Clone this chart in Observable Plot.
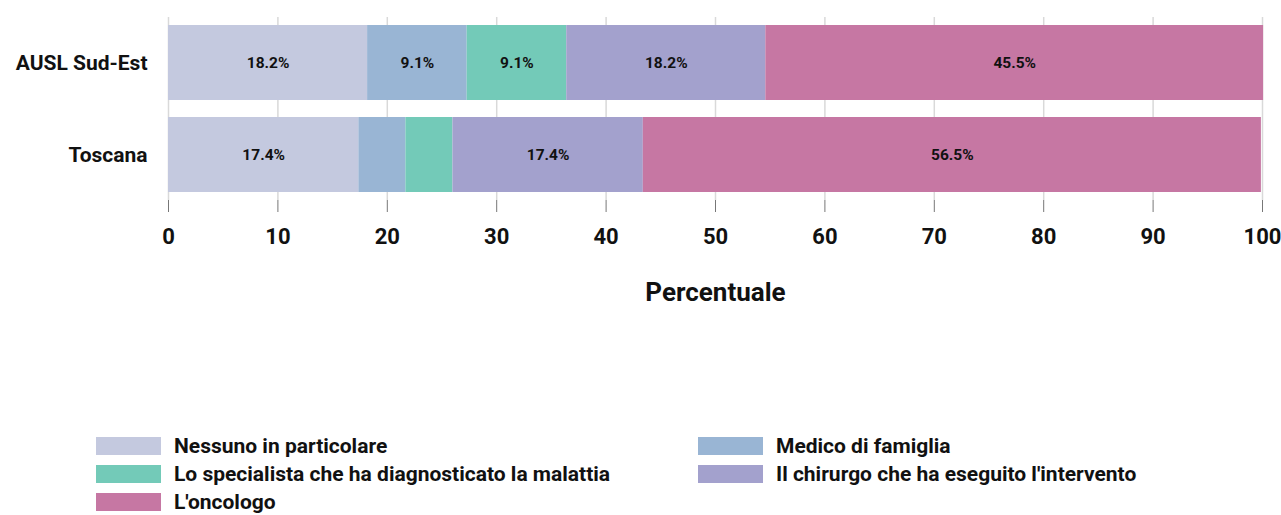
<!DOCTYPE html>
<html>
<head>
<meta charset="utf-8">
<script src="https://cdn.jsdelivr.net/npm/d3@7"></script>
<script src="https://cdn.jsdelivr.net/npm/@observablehq/plot@0.6"></script>
<style>
  body { margin: 0; background: #fff; font-family: Roboto, "DejaVu Sans", sans-serif; }
  #chart svg { display: block; }
  .legend { position: absolute; left: 96px; top: 437px; display: grid; grid-template-columns: 602px 560px; row-gap: 10px; }
  .item { display: flex; align-items: center; height: 18px; font-weight: 700; font-size: 21px; color: #111; white-space: nowrap; }
  .sw { width: 65px; height: 18px; margin-right: 13px; flex: none; }
</style>
</head>
<body>
<div id="chart"></div>
<div class="legend" id="legend"></div>
<script>
const regions = ["AUSL Sud-Est", "Toscana"];
const categories = [
  "Nessuno in particolare",
  "Medico di famiglia",
  "Lo specialista che ha diagnosticato la malattia",
  "Il chirurgo che ha eseguito l'intervento",
  "L'oncologo"
];
const colors = ["#c4c9df", "#99b5d4", "#73cab8", "#a3a1cd", "#c677a3"];
const auslValues = [18.2, 9.1, 9.1, 18.2, 45.5];
const toscanaValues = [17.4, 4.3, 4.3, 17.4, 56.5];
const xTicks = [0, 10, 20, 30, 40, 50, 60, 70, 80, 90, 100];

const data = [];
[auslValues, toscanaValues].forEach((vals, i) => {
  vals.forEach((v, j) => data.push({region: regions[i], category: categories[j], value: v}));
});

const chart = Plot.plot({
  width: 1281,
  height: 320,
  marginLeft: 168,
  marginRight: 19,
  marginTop: 17,
  marginBottom: 120,
  style: {fontFamily: "Roboto, sans-serif", fontWeight: 700, color: "#111"},
  x: {domain: [0, 100], ticks: xTicks},
  y: {domain: regions, paddingInner: 0.185, paddingOuter: 0.087},
  color: {domain: categories, range: colors},
  marks: [
    Plot.gridX(xTicks, {stroke: "#d9d9d9", strokeOpacity: 1, strokeWidth: 1.5}),
    Plot.barX(data, Plot.stackX({x: "value", y: "region", fill: "category", order: categories})),
    Plot.text(data, Plot.stackX({
      x: "value", y: "region", z: "category", order: categories,
      text: d => d.value > 5 ? d.value.toFixed(1) + "%" : "",
      fill: "#111", fontSize: 15.5, fontWeight: 700
    })),
    Plot.axisX({
      ticks: xTicks, tickSize: 12, tickPadding: 16, stroke: "#777",
      fontSize: 22, fontWeight: 700, label: "Percentuale", labelAnchor: "center",
      labelArrow: "none", labelOffset: 100
    }),
    Plot.axisY({tickSize: 0, tickPadding: 21, fontSize: 21, fontWeight: 700, label: null})
  ]
});
document.getElementById("chart").appendChild(chart);

// style axis label
chart.querySelectorAll("g[aria-label='x-axis label'] text").forEach(t => {
  t.setAttribute("font-size", 26);
  t.textContent = t.textContent.replace(/\s*[→←↑↓]\s*/g, "");
});

const legend = document.getElementById("legend");
categories.forEach((c, i) => {
  const it = document.createElement("div");
  it.className = "item";
  const sw = document.createElement("span");
  sw.className = "sw";
  sw.style.background = colors[i];
  const lb = document.createElement("span");
  lb.textContent = c;
  it.appendChild(sw); it.appendChild(lb);
  legend.appendChild(it);
});
</script>
</body>
</html>
